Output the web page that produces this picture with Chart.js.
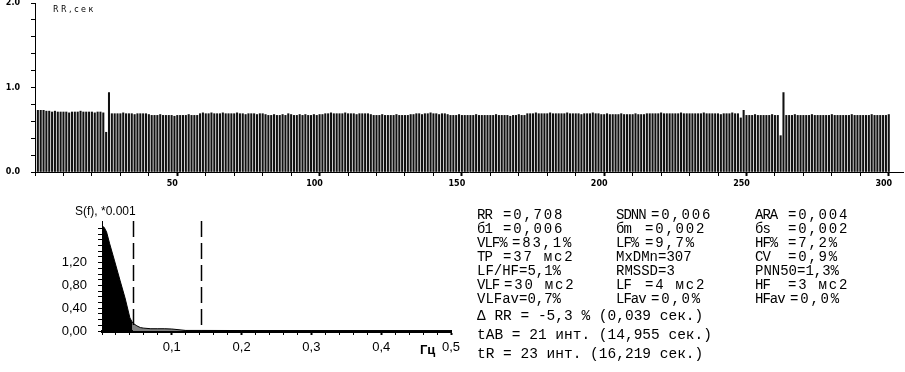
<!DOCTYPE html>
<html>
<head>
<meta charset="utf-8">
<script src="https://cdn.jsdelivr.net/npm/chart.js@4.4.0/dist/chart.umd.min.js"></script>
<style>
  body { margin: 0; background: #fff; }
  #wrap { position: relative; width: 905px; height: 372px; overflow: hidden; }
  canvas { position: absolute; left: 0; }
  #rrChart { top: 0; }
  #spChart { top: 195px; }
  .txt { position: absolute; color: #000; white-space: pre; }
  .stat { font-family: "Liberation Mono", monospace; font-size: 14px; line-height: 14px; }
  .sum { font-family: "Liberation Mono", monospace; font-size: 14.5px; line-height: 19px; }
</style>
</head>
<body>
<div id="wrap">
  <canvas id="rrChart" width="905" height="195"></canvas>
  <canvas id="spChart" width="470" height="177"></canvas>
  <div class="txt" style="left:53px;top:5px;font:8px 'DejaVu Sans';letter-spacing:2.5px;">RR,сек</div>
  <div class="txt" style="left:75px;top:204px;font:12px 'Liberation Sans';">S(f), *0.001</div>
  <div class="txt" style="left:420px;top:342px;font:bold 13px 'Liberation Sans';">Гц</div>
  <div id="stats"></div>
</div>
<script>
// RR intervals (sec) for beats 1..300
const rrValues = [
  0.73, 0.73, 0.73, 0.72, 0.72, 0.71, 0.72, 0.71,
  0.71, 0.71, 0.71, 0.70, 0.71, 0.71, 0.71, 0.72, 0.71, 0.71, 0.71, 0.71, 0.70, 0.71, 0.71, 0.70,
  0.47, 0.94,
  0.69, 0.69, 0.69, 0.69, 0.70, 0.69, 0.69, 0.69, 0.68, 0.69, 0.69, 0.69, 0.69, 0.68,
  0.67, 0.67, 0.67, 0.68, 0.67, 0.67, 0.67, 0.67, 0.66, 0.67, 0.67, 0.67, 0.67, 0.68, 0.67, 0.67, 0.67,
  0.69, 0.70, 0.69, 0.69, 0.70, 0.69, 0.69, 0.69, 0.70, 0.69, 0.69, 0.69, 0.69, 0.70, 0.69, 0.69, 0.68, 0.69, 0.69, 0.69, 0.68, 0.69, 0.69,
  0.68, 0.67, 0.67, 0.68, 0.67, 0.67, 0.68, 0.67, 0.69, 0.68, 0.67, 0.67, 0.68, 0.67, 0.68, 0.67, 0.67, 0.68, 0.67, 0.68, 0.68,
  0.69, 0.69, 0.70, 0.69, 0.69, 0.69, 0.69, 0.70, 0.69, 0.69, 0.69, 0.68, 0.69, 0.69, 0.69, 0.69, 0.68,
  0.67, 0.67, 0.67, 0.68, 0.67, 0.67, 0.67, 0.67, 0.68, 0.67, 0.67, 0.67, 0.67, 0.68,
  0.68, 0.69, 0.69, 0.68, 0.69, 0.69, 0.70, 0.69, 0.69, 0.68, 0.69, 0.69, 0.68,
  0.67, 0.67, 0.67, 0.68, 0.67, 0.67, 0.67, 0.67, 0.67, 0.68, 0.67, 0.67, 0.67, 0.67, 0.67, 0.67, 0.68, 0.67, 0.67, 0.67, 0.67, 0.66, 0.67, 0.67, 0.68, 0.67, 0.67,
  0.69, 0.69, 0.69, 0.70, 0.69, 0.69, 0.69, 0.69, 0.70, 0.69, 0.69, 0.69, 0.69, 0.69, 0.70, 0.69, 0.69, 0.69, 0.69, 0.68, 0.69, 0.69, 0.69, 0.70, 0.69, 0.69,
  0.68, 0.68, 0.69, 0.68, 0.68, 0.68, 0.68, 0.69, 0.68, 0.68, 0.68, 0.68, 0.69, 0.68, 0.68, 0.68, 0.69,
  0.69, 0.69, 0.69, 0.69, 0.70, 0.69, 0.69, 0.69, 0.69, 0.69, 0.69, 0.70, 0.69, 0.69, 0.69, 0.69, 0.69, 0.69, 0.69, 0.70, 0.69, 0.69, 0.69, 0.69, 0.69, 0.68, 0.69, 0.69, 0.69, 0.70, 0.69, 0.69,
  0.64, 0.73,
  0.67, 0.67, 0.67, 0.68, 0.67, 0.67, 0.67, 0.67, 0.67, 0.68, 0.67, 0.67,
  0.43, 0.94,
  0.67, 0.67, 0.67, 0.68, 0.67, 0.67, 0.67, 0.67, 0.67, 0.68, 0.67, 0.67, 0.67, 0.67, 0.67, 0.67, 0.68, 0.67, 0.67, 0.67,
  0.67, 0.67, 0.67, 0.68, 0.67, 0.67, 0.67, 0.67, 0.67, 0.67, 0.68, 0.67, 0.67, 0.67, 0.67, 0.67, 0.68
];
const rrMajorTicks = [50, 100, 150, 200, 250, 300];
const rrYLabels = [0, 1, 2];

// spectrum, S(f) *0.001
const spectrumFreq  = [0, 0.003, 0.0065, 0.011, 0.018, 0.026, 0.033, 0.040, 0.044, 0.05, 0.055, 0.06, 0.07, 0.08, 0.09, 0.10, 0.12, 0.142, 0.2, 0.3, 0.4, 0.5];
const spectrumPower = [1.84, 1.82, 1.74, 1.53, 1.23, 0.88, 0.58, 0.23, 0.14, 0.09, 0.06, 0.05, 0.04, 0.04, 0.04, 0.035, 0.01, 0.01, 0.008, 0.006, 0.005, 0.005];
const bandEdges = [0.044, 0.142];
const freqMajorTicks = [0.1, 0.2, 0.3, 0.4, 0.5];
const powerLabels = [0, 0.4, 0.8, 1.2];

const statRows = [
  [['RR', '=0,708'], ['SDNN', '=0,006'], ['ARA', '=0,004']],
  [['б1', '=0,006'], ['бm', '=0,002'], ['бs', '=0,002']],
  [['VLF%', '=83,1%'], ['LF%', '=9,7%'], ['HF%', '=7,2%']],
  [['TP', '=37 мс2'], ['MxDMn=307', ''], ['CV', '=0,9%']],
  [['LF/HF=5,1%', ''], ['RMSSD=3', ''], ['PNN50=1,3%', '']],
  [['VLF', '=30 мс2'], ['LF', '=4 мс2'], ['HF', '=3 мс2']],
  [['VLFav=0,7%', ''], ['LFav', '=0,0%'], ['HFav', '=0,0%']]
];
const summaryLines = ['Δ RR = -5,3 % (0,039 сек.)', 'tAB = 21 инт. (14,955 сек.)', 'tR = 23 инт. (16,219 сек.)'];

// text block
const statColX = [477, 616, 755];
const statValX = [503, 645, 788];
const box = document.getElementById('stats');
function addText(cls, x, y, text, spacing) {
  const d = document.createElement('div');
  d.className = 'txt ' + cls;
  d.style.left = x + 'px';
  d.style.top = y + 'px';
  d.style.letterSpacing = spacing + 'px';
  d.textContent = text;
  box.appendChild(d);
  return d;
}
statRows.forEach((row, r) => {
  row.forEach(([label, value], c) => {
    const y = 208 + r * 14;
    if (value === '') {
      addText('stat', statColX[c], y, label, 0);
    } else {
      const el = addText('stat', statColX[c], y, label, -1);
      const vx = Math.max(statValX[c], statColX[c] + el.offsetWidth + 5);
      addText('stat', vx, y, value, 1.8);
    }
  });
});
summaryLines.forEach((line, i) => addText('sum', 477, 307 + i * 19, line, 0));

const near = (a, b) => Math.abs(a - b) < 1e-6;

// RR bars
new Chart(document.getElementById('rrChart'), {
  type: 'bar',
  data: {
    datasets: [{
      data: rrValues.map((v, i) => ({ x: i + 1, y: v })),
      backgroundColor: '#111',
      borderWidth: 0,
      barThickness: 1.4
    }]
  },
  options: {
    responsive: false,
    animation: false,
    events: [],
    layout: { padding: { left: 0, right: 2, top: 3, bottom: 0 } },
    plugins: { legend: { display: false }, tooltip: { enabled: false } },
    scales: {
      x: {
        type: 'linear', min: 0, max: 305, offset: false,
        afterBuildTicks: s => { s.ticks = s.ticks.filter(t => t.value % 10 === 0); },
        afterFit: s => { s.height = 23; s.paddingLeft = 0; s.paddingRight = 0; },
        ticks: {
          stepSize: 10, autoSkip: false, includeBounds: false, maxRotation: 0, padding: 3, labelOffset: -5,
          color: '#000', font: { family: 'DejaVu Sans', size: 8, weight: 'bold' },
          callback: v => rrMajorTicks.includes(v) ? String(v) : ''
        },
        grid: {
          offset: false, drawOnChartArea: false, tickLength: 4, color: '#000',
          tickWidth: ctx => (ctx.tick && rrMajorTicks.includes(ctx.tick.value)) ? 2 : 1
        },
        border: { display: true, color: '#000', width: 1 }
      },
      y: {
        min: 0, max: 2,
        afterFit: s => { s.width = 35; s.paddingTop = 0; s.paddingBottom = 0; },
        ticks: {
          stepSize: 0.2, autoSkip: false, padding: 11,
          color: '#000', font: { family: 'DejaVu Sans', size: 8, weight: 'bold' },
          callback: v => rrYLabels.some(m => near(m, v)) ? v.toFixed(1) : ''
        },
        grid: { drawOnChartArea: false, tickLength: 4, color: '#000' },
        border: { display: true, color: '#000', width: 1 }
      }
    }
  }
});

// spectrum
const bandLines = {
  id: 'bandLines',
  afterDatasetsDraw(chart) {
    const { ctx, chartArea, scales } = chart;
    ctx.save();
    ctx.strokeStyle = '#000';
    ctx.lineWidth = 1.5;
    ctx.setLineDash([16, 6]);
    bandEdges.forEach(f => {
      const x = Math.round(scales.x.getPixelForValue(f)) + 0.5;
      ctx.beginPath();
      ctx.moveTo(x, chartArea.top);
      ctx.lineTo(x, chartArea.bottom);
      ctx.stroke();
    });
    ctx.restore();
  }
};

const points = spectrumFreq.map((f, i) => ({ x: f, y: spectrumPower[i] }));
const vlfPoints = points.filter(p => p.x <= bandEdges[0]);
const restPoints = points.filter(p => p.x >= bandEdges[0]);

new Chart(document.getElementById('spChart'), {
  type: 'line',
  data: {
    datasets: [
      { data: vlfPoints, borderColor: '#000', borderWidth: 1, backgroundColor: '#000', fill: 'origin', pointRadius: 0, tension: 0 },
      { data: restPoints, borderColor: '#000', borderWidth: 1, backgroundColor: '#808080', fill: 'origin', pointRadius: 0, tension: 0 }
    ]
  },
  options: {
    responsive: false,
    animation: false,
    events: [],
    layout: { padding: { left: 0, right: 19, top: 26, bottom: 0 } },
    plugins: { legend: { display: false }, tooltip: { enabled: false } },
    scales: {
      x: {
        type: 'linear', min: 0, max: 0.5,
        afterBuildTicks: s => { s.ticks = s.ticks.filter(t => near(t.value * 50, Math.round(t.value * 50))); },
        afterFit: s => { s.height = 41; s.paddingLeft = 0; s.paddingRight = 0; },
        ticks: {
          stepSize: 0.02, autoSkip: false, maxRotation: 0, padding: 5,
          color: '#000', font: { family: 'Liberation Sans', size: 13 },
          callback: v => freqMajorTicks.some(m => near(m, v)) ? v.toFixed(1).replace('.', ',') : ''
        },
        grid: {
          drawOnChartArea: false, tickLength: 4, color: '#000',
          tickWidth: ctx => (ctx.tick && freqMajorTicks.some(m => near(m, ctx.tick.value))) ? 2 : 1
        },
        border: { display: true, color: '#000', width: 3 }
      },
      y: {
        min: 0, max: 1.93,
        afterBuildTicks: s => { s.ticks = s.ticks.filter(t => near(t.value * 10, Math.round(t.value * 10))); },
        afterFit: s => { s.width = 102; s.paddingTop = 0; s.paddingBottom = 0; },
        ticks: {
          stepSize: 0.1, autoSkip: false, padding: 11,
          color: '#000', font: { family: 'Liberation Sans', size: 13 },
          callback: v => powerLabels.some(m => near(m, v)) ? v.toFixed(2).replace('.', ',') : ''
        },
        grid: { drawOnChartArea: false, tickLength: 4, color: '#000' },
        border: { display: true, color: '#000', width: 1 }
      }
    }
  },
  plugins: [bandLines]
});
</script>
</body>
</html>
